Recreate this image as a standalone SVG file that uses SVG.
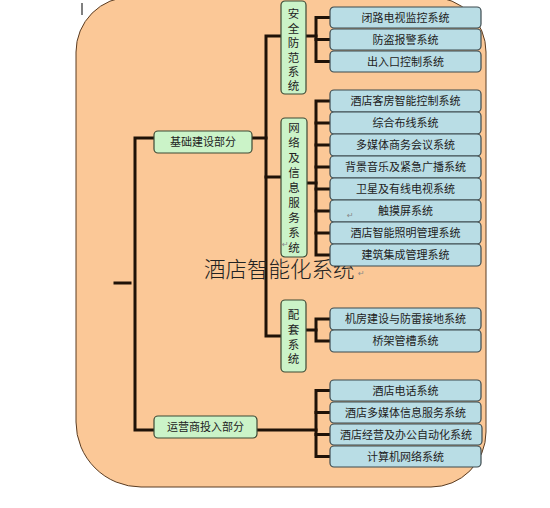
<svg xmlns="http://www.w3.org/2000/svg" width="550" height="508" viewBox="0 0 550 508">
<style>
.leaf{fill:#B9DDE5;stroke:#3c4a4f;stroke-width:1.2}
.cat{fill:#CBF3C8;stroke:#3d4a35;stroke-width:1.2}
.t{font-family:"Noto Sans CJK SC","Liberation Sans",sans-serif;font-size:11px;fill:#222;text-anchor:middle}
.v{font-family:"Noto Sans CJK SC","Liberation Sans",sans-serif;font-size:11.5px;fill:#222;text-anchor:middle}
.ln{fill:none;stroke:#1e1208;stroke-width:3;stroke-linecap:square}
.rm{font-family:"DejaVu Sans",sans-serif;font-size:8px;fill:#888}
</style>
<rect width="550" height="508" fill="#fff"/>
<path d="M131,-3 H431 A55 55 0 0 1 486,52 V432 A55 55 0 0 1 431,487 H141 A65 65 0 0 1 76,422 V52 A55 55 0 0 1 131,-3 Z" fill="#FBC897" stroke="#5a3c22" stroke-width="1"/>
<line x1="82" y1="3" x2="82" y2="15" stroke="#000" stroke-width="1"/>
<g id="connectors" class="ln">
<line x1="115" y1="283" x2="130" y2="283"/>
<path d="M154,138 H135 V430 H154"/>
<path d="M252,138 H266"/>
<path d="M281,36 H266 V336 H281"/>
<path d="M266,177 H281"/>
<path d="M306,36 H316"/>
<path d="M330,17.5 H316 V61.5 H330"/>
<path d="M316,39.5 H330"/>
<path d="M307,183 H316"/>
<path d="M330,101 H316 V255 H330"/>
<path d="M316,123 H330 M316,145 H330 M316,167 H330 M316,189 H330 M316,211 H330 M316,233 H330"/>
<path d="M306,330 H316"/>
<path d="M330,319 H316 V341 H330"/>
<path d="M257,430 H316"/>
<path d="M330,390.5 H316 V456.5 H330"/>
<path d="M316,412.5 H330 M316,434.5 H330"/>
</g>
<g id="title"><text x="204" y="277" font-family="Noto Sans CJK SC,sans-serif" font-size="21.5" fill="#222" font-weight="300">酒店智能化系统</text><text class="rm" x="358" y="276">↵</text></g>
<g id="n-jichu"><rect class="cat" x="154" y="131" width="98" height="22" rx="4"/><text class="t" x="203" y="146">基础建设部分</text></g>
<g id="n-yunying"><rect class="cat" x="154" y="416" width="103" height="22" rx="4"/><text class="t" x="205.5" y="431">运营商投入部分</text></g>
<g id="n-anquan"><rect class="cat" x="281" y="1" width="25" height="93" rx="4"/>
<text class="v" x="293.5" y="18">安</text><text class="v" x="293.5" y="32.5">全</text><text class="v" x="293.5" y="47">防</text><text class="v" x="293.5" y="61.5">范</text><text class="v" x="293.5" y="76">系</text><text class="v" x="293.5" y="90">统</text></g>
<g id="n-wangluo"><rect class="cat" x="281" y="118" width="26" height="139" rx="4"/>
<text class="v" x="294" y="132">网</text><text class="v" x="294" y="147">络</text><text class="v" x="294" y="162">及</text><text class="v" x="294" y="177">信</text><text class="v" x="294" y="192">息</text><text class="v" x="294" y="207">服</text><text class="v" x="294" y="222">务</text><text class="v" x="294" y="237">系</text><text class="v" x="294" y="252">统</text><text class="rm" x="282" y="247">↵</text></g>
<g id="n-peitao"><rect class="cat" x="281" y="300" width="25" height="72" rx="4"/>
<text class="v" x="293.5" y="319">配</text><text class="v" x="293.5" y="334">套</text><text class="v" x="293.5" y="348.5">系</text><text class="v" x="293.5" y="363">统</text></g>
<g id="n-a1"><rect class="leaf" x="330" y="7" width="151" height="21" rx="4"/><text class="t" x="405.5" y="21.5">闭路电视监控系统</text></g>
<g id="n-a2"><rect class="leaf" x="330" y="29" width="151" height="21" rx="4"/><text class="t" x="405.5" y="43.5">防盗报警系统</text></g>
<g id="n-a3"><rect class="leaf" x="330" y="51" width="151" height="21" rx="4"/><text class="t" x="405.5" y="65.5">出入口控制系统</text></g>
<g id="n-b1"><rect class="leaf" x="330" y="90" width="151" height="22" rx="4"/><text class="t" x="405.5" y="105">酒店客房智能控制系统</text></g>
<g id="n-b2"><rect class="leaf" x="330" y="112" width="151" height="22" rx="4"/><text class="t" x="405.5" y="127">综合布线系统</text></g>
<g id="n-b3"><rect class="leaf" x="330" y="134" width="151" height="22" rx="4"/><text class="t" x="405.5" y="149">多媒体商务会议系统</text></g>
<g id="n-b4"><rect class="leaf" x="330" y="156" width="151" height="22" rx="4"/><text class="t" x="405.5" y="171">背景音乐及紧急广播系统</text></g>
<g id="n-b5"><rect class="leaf" x="330" y="178" width="151" height="22" rx="4"/><text class="t" x="405.5" y="193">卫星及有线电视系统</text></g>
<g id="n-b6"><rect class="leaf" x="330" y="200" width="151" height="22" rx="4"/><text class="t" x="405.5" y="215">触摸屏系统</text><text class="rm" x="347" y="218">↵</text></g>
<g id="n-b7"><rect class="leaf" x="330" y="222" width="151" height="22" rx="4"/><text class="t" x="405.5" y="237">酒店智能照明管理系统</text></g>
<g id="n-b8"><rect class="leaf" x="330" y="244" width="151" height="22" rx="4"/><text class="t" x="405.5" y="259">建筑集成管理系统</text></g>
<g id="n-c1"><rect class="leaf" x="330" y="308" width="151" height="22" rx="4"/><text class="t" x="405.5" y="323">机房建设与防雷接地系统</text></g>
<g id="n-c2"><rect class="leaf" x="330" y="330" width="151" height="22" rx="4"/><text class="t" x="405.5" y="345">桥架管槽系统</text></g>
<g id="n-d1"><rect class="leaf" x="330" y="380" width="151" height="21" rx="4"/><text class="t" x="405.5" y="394.5">酒店电话系统</text></g>
<g id="n-d2"><rect class="leaf" x="330" y="402" width="151" height="21" rx="4"/><text class="t" x="405.5" y="416.5">酒店多媒体信息服务系统</text></g>
<g id="n-d3"><rect class="leaf" x="330" y="424" width="152" height="21" rx="4"/><text class="t" x="406" y="438.5">酒店经营及办公自动化系统</text></g>
<g id="n-d4"><rect class="leaf" x="330" y="446" width="151" height="21" rx="4"/><text class="t" x="405.5" y="460.5">计算机网络系统</text></g>
</svg>
